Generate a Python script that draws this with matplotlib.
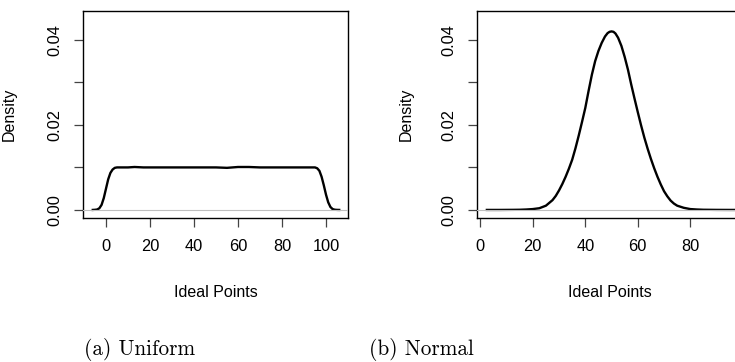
import matplotlib
matplotlib.use("Agg")
import matplotlib.pyplot as plt

plt.rcParams['font.family'] = ['Liberation Sans', 'DejaVu Sans']

# density estimates
unif_x = [-6, -5, -4, -3, -2, -1, 0, 1, 2, 3, 4, 5, 7, 10, 13, 17, 20, 25, 30, 35,
          40, 45, 50, 55, 60, 65, 70, 75, 80, 85, 90, 93, 95, 96, 97, 98, 99, 100,
          101, 102, 103, 104, 105, 106]
unif_y = [0.0, 0.00003, 0.0001, 0.0004, 0.0012, 0.0028, 0.0050, 0.0072, 0.0087,
          0.0095, 0.0099, 0.0100, 0.0100, 0.0100, 0.0101, 0.0100, 0.0100, 0.0100,
          0.0100, 0.0100, 0.0100, 0.0100, 0.0100, 0.0099, 0.0101, 0.0101, 0.0100,
          0.0100, 0.0100, 0.0100, 0.0100, 0.0100, 0.0100, 0.0098, 0.0092, 0.0078,
          0.0058, 0.0036, 0.0018, 0.0007, 0.0002, 0.00005, 0.00001, 0.0]

norm_x = [2.5, 5, 7.5, 10, 12.5, 15, 17.5, 20, 22.5, 25, 27.5, 28.75, 30, 31.25,
          32.5, 33.75, 35, 36.25, 37.5, 38.75, 40, 41.25, 42.5, 43.75, 45, 46.25,
          47.5, 48.5, 49.25, 50, 50.75, 51.5, 52.5, 53.75, 55, 56.25, 57.5, 58.75,
          60, 61.25, 62.5, 63.75, 65, 66.25, 67.5, 68.75, 70, 71.25, 72.5, 73.75,
          75, 77.5, 80, 82.5, 85, 90, 95, 100]
norm_y = [0.0, 0.0, 0.0, 0.00001, 0.00002, 0.00004, 0.0001, 0.0002, 0.0004, 0.0010,
          0.0023, 0.0033, 0.0046, 0.0061, 0.0078, 0.0097, 0.0118, 0.0145, 0.0175,
          0.0207, 0.0240, 0.0280, 0.0318, 0.0350, 0.0374, 0.0393, 0.0408, 0.0416,
          0.0419, 0.0420, 0.0419, 0.0415, 0.0405, 0.0386, 0.0360, 0.0330, 0.0295,
          0.0262, 0.0230, 0.0199, 0.0170, 0.0144, 0.0120, 0.0098, 0.0078, 0.0060,
          0.0044, 0.0032, 0.0022, 0.0015, 0.0010, 0.0005, 0.0002, 0.0001, 0.00004,
          0.00001, 0.0, 0.0]

y_ticks = [0.0, 0.01, 0.02, 0.03, 0.04]
y_labels = ['0.00', '', '0.02', '', '0.04']
unif_xticks = [0, 20, 40, 60, 80, 100]
norm_xticks = [0, 20, 40, 60, 80]
captions = ['(a) Uniform', '(b) Normal']

fig = plt.figure(figsize=(7.35, 3.62), dpi=100)

W, H = 735.0, 362.0
ax_w = 265 / W
ax_h = 207 / H
ax_b = 1 - 218 / H

ax1 = fig.add_axes([83 / W, ax_b, ax_w, ax_h])
ax2 = fig.add_axes([477 / W, ax_b, ax_w, ax_h])


def style_panel(ax, xs, ys, xticks, xlim, ylab_x):
    ax.plot(xs, ys, color='black', lw=1.7, zorder=2, solid_joinstyle='round')
    ax.axhline(0, color='#bebebe', lw=0.8, zorder=3)
    ax.set_xlim(xlim)
    ax.set_ylim(-0.0019, 0.0468)
    ax.set_xticks(xticks)
    ax.set_yticks(y_ticks)
    ax.set_yticklabels(y_labels)
    ax.tick_params(direction='out', length=6.5, width=0.9, color='#444444',
                   labelsize=11.8, pad=8.5)
    plt.setp(ax.get_yticklabels(), rotation=90, va='center')
    for s in ax.spines.values():
        s.set_linewidth(1.0)
    ax.set_xlabel('Ideal Points', fontsize=11.5)
    ax.set_ylabel('Density', fontsize=11.5)
    ax.xaxis.set_label_coords(0.5, -0.324)
    ax.yaxis.set_label_coords(ylab_x, 0.5)


style_panel(ax1, unif_x, unif_y, unif_xticks, (-10.45, 110.0), -0.249)
style_panel(ax2, norm_x, norm_y, norm_xticks, (-1.26, 99.7), -0.240)

fig.text(140 / W, 1 - 355 / H, captions[0], family='cmr10', fontsize=15.3,
         ha='center', va='baseline')
fig.text(421 / W, 1 - 355 / H, captions[1], family='cmr10', fontsize=15.3,
         ha='center', va='baseline')

fig.savefig('out.png', dpi=100)
